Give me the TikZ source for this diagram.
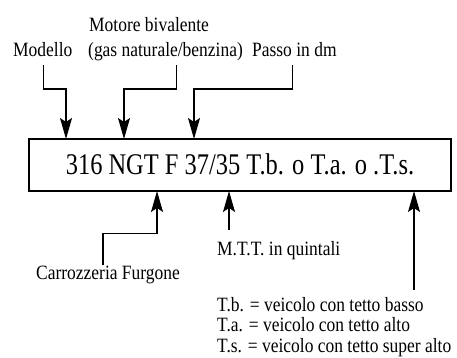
\documentclass[tikz,border=0pt]{standalone}
\usepackage{fontspec}
\setmainfont{Liberation Serif}[FakeStretch=0.86]
\newfontfamily\codefont{Liberation Serif}[FakeStretch=0.815]
\usetikzlibrary{arrows.meta}

\begin{document}
\begin{tikzpicture}[x=1pt, y=-1pt,
    arr/.style={-{Stealth[length=21pt, width=12pt, inset=4pt]}, line width=1.3pt},
    lbl/.style={inner sep=0pt, font=\fontsize{20.3}{20.5}\selectfont},
    codebox/.style={draw, line width=1.3pt, inner sep=0pt,
        minimum width=422pt, minimum height=52pt,
        text height=20pt, text depth=0pt, font=\codefont\fontsize{30}{30}\selectfont}]
    \useasboundingbox (0,0) rectangle (457,358);

    % the code in its box
    \node[codebox] (code) at (240,165) {316 NGT F 37/35 T.b. o T.a. o .T.s.};

    % labels above
    \node[lbl, anchor=base west] (modello) at (13,57) {Modello};
    \node[lbl, anchor=base west] (motore) at (89,32) {Motore bivalente};
    \node[lbl, anchor=base west] (gas) at (88,57) {(gas naturale/benzina)};
    \node[lbl, anchor=base west] (passo) at (252,57) {Passo in dm};

    % labels below
    \node[lbl, anchor=base west] (carrozzeria) at (36,279) {Carrozzeria Furgone};
    \node[lbl, anchor=base west] (mtt) at (217,255) {M.T.T. in quintali};
    \node[lbl, anchor=north west, align=left] (legend) at (217,297)
        {T.b. = veicolo con tetto basso\\ T.a. = veicolo con tetto alto\\ T.s. = veicolo con tetto super alto};

    % arrow ends on the box
    \coordinate (aModello) at (66,139);
    \coordinate (aMotore) at (124,139);
    \coordinate (aPasso) at (194,139);
    \coordinate (aCarr) at (157,191);
    \coordinate (aMtt) at (229,191);
    \coordinate (aTs) at (414,191);

    \draw[arr] ([xshift=1pt, yshift=-8pt]modello.base) -- ++(0,24) -| (aModello);
    \draw[arr] ([xshift=11pt, yshift=-8pt]gas.base) -- ++(0,24) -| (aMotore);
    \draw[arr] ([xshift=-2pt, yshift=-8pt]passo.base) -- ++(0,24) -| (aPasso);

    \draw[arr] ([xshift=-5pt]carrozzeria.north) -- ++(0,-32) -| (aCarr);
    \draw[arr] (aMtt |- mtt.north) ++(0,-11) -- (aMtt);
    \draw[arr] (aTs |- legend.north) ++(0,-7) -- (aTs);
\end{tikzpicture}
\end{document}
